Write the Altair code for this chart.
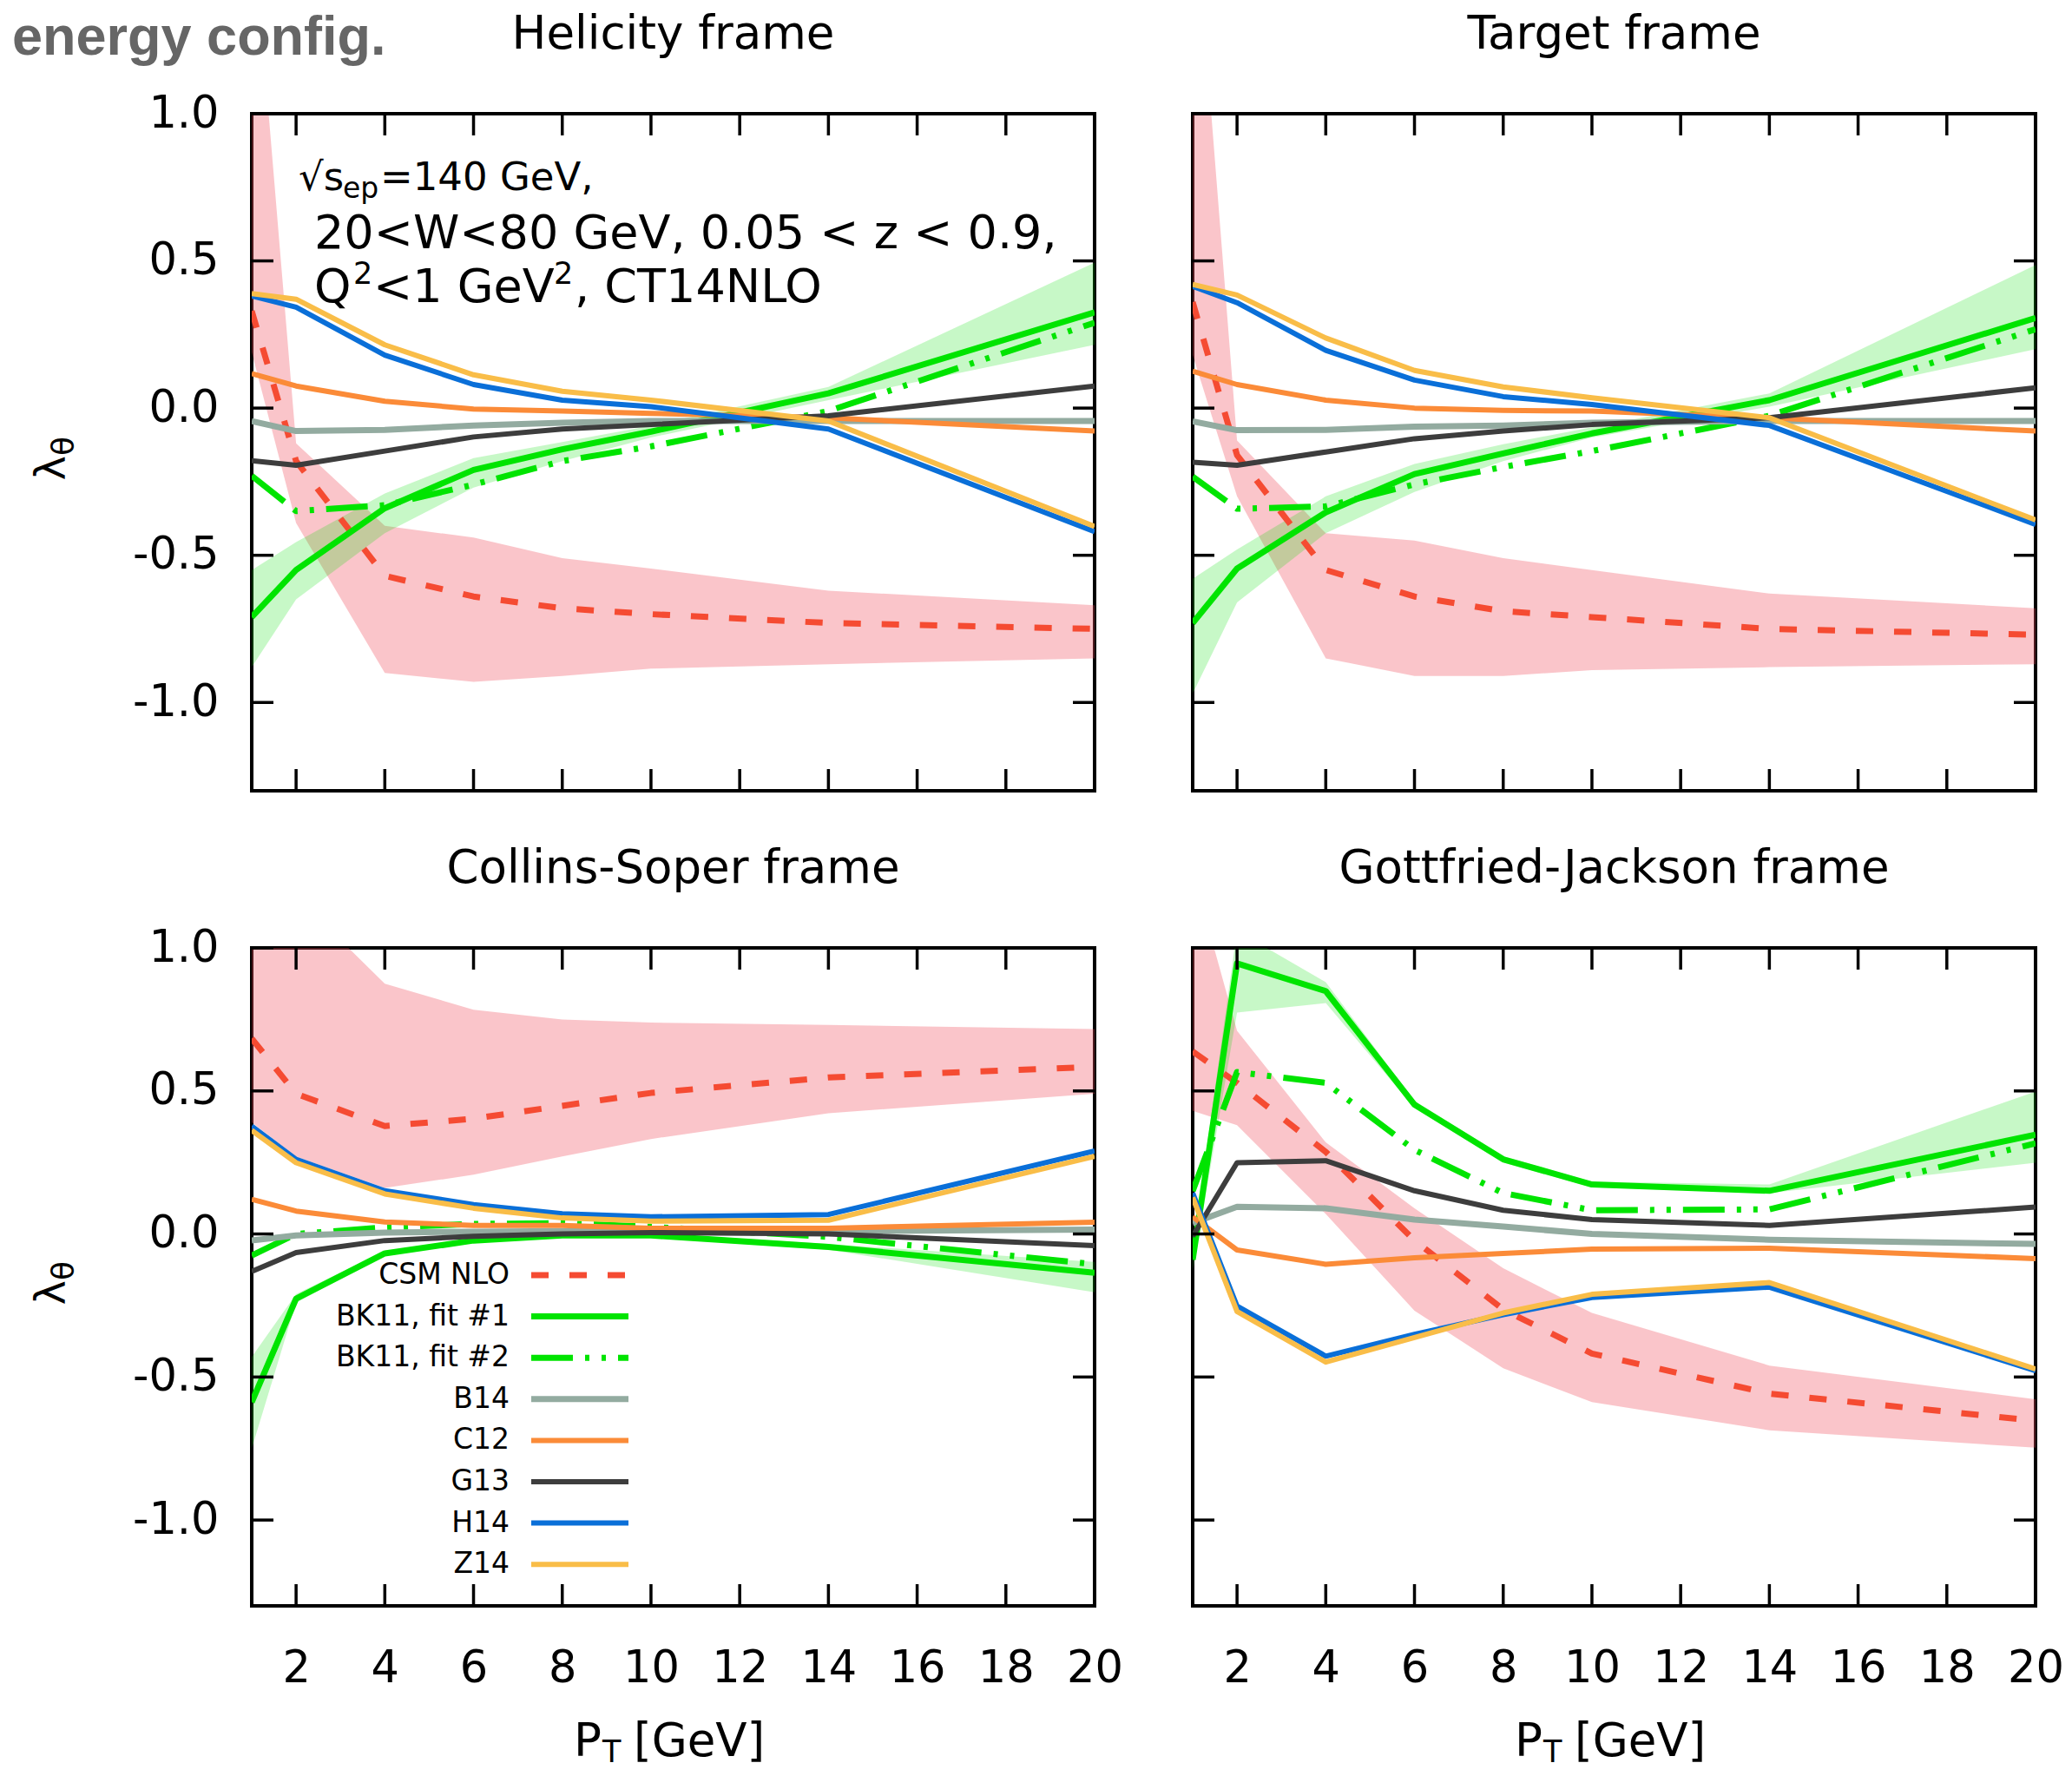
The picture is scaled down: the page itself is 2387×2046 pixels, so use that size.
import altair as alt
import pandas as pd

FONT = "DejaVu Sans"

# ---------------- data ----------------
PT = [1, 2, 4, 6, 8, 10, 14, 20]
X_TICKS = [2, 4, 6, 8, 10, 12, 14, 16, 18, 20]
Y_TICKS = [-1.0, -0.5, 0.0, 0.5, 1.0]
SERIES = ["CSM NLO", "BK11, fit #1", "BK11, fit #2", "B14", "C12", "G13", "H14", "Z14"]
FRAME_TITLES = ["Helicity frame", "Target frame", "Collins-Soper frame", "Gottfried-Jackson frame"]

# Helicity frame
HEL_CSM = [0.33, -0.18, -0.57, -0.64, -0.68, -0.70, -0.73, -0.75]
HEL_CSM_LO = [0.19, -0.39, -0.90, -0.93, -0.91, -0.885, -0.87, -0.85]
HEL_CSM_HI = [1.69, -0.12, -0.40, -0.44, -0.51, -0.545, -0.62, -0.67]
HEL_FIT1 = [-0.71, -0.55, -0.34, -0.21, -0.14, -0.08, 0.05, 0.325]
HEL_FIT1_LO = [-0.88, -0.65, -0.425, -0.27, -0.18, -0.10, 0.027, 0.215]
HEL_FIT1_HI = [-0.55, -0.455, -0.29, -0.17, -0.115, -0.06, 0.072, 0.494]
HEL_FIT2 = [-0.23, -0.35, -0.33, -0.26, -0.18, -0.13, -0.01, 0.29]
HEL_B14 = [-0.044, -0.078, -0.074, -0.059, -0.05, -0.044, -0.044, -0.044]
HEL_C12 = [0.117, 0.075, 0.023, -0.003, -0.01, -0.018, -0.033, -0.078]
HEL_G13 = [-0.179, -0.194, -0.146, -0.098, -0.071, -0.056, -0.026, 0.075]
HEL_H14 = [0.381, 0.343, 0.18, 0.08, 0.027, 0.005, -0.071, -0.42]
HEL_Z14 = [0.389, 0.37, 0.215, 0.113, 0.057, 0.027, -0.044, -0.402]

# Target frame
TGT_CSM = [0.36, -0.16, -0.55, -0.64, -0.69, -0.71, -0.75, -0.77]
TGT_CSM_LO = [0.18, -0.30, -0.85, -0.91, -0.91, -0.89, -0.88, -0.87]
TGT_CSM_HI = [1.80, -0.11, -0.425, -0.45, -0.51, -0.55, -0.63, -0.68]
TGT_FIT1 = [-0.73, -0.545, -0.354, -0.224, -0.154, -0.086, 0.027, 0.306]
TGT_FIT1_LO = [-0.97, -0.66, -0.425, -0.285, -0.18, -0.10, 0.005, 0.20]
TGT_FIT1_HI = [-0.58, -0.48, -0.30, -0.19, -0.123, -0.065, 0.05, 0.486]
TGT_FIT2 = [-0.233, -0.342, -0.334, -0.259, -0.20, -0.146, -0.026, 0.268]
TGT_B14 = [-0.045, -0.075, -0.074, -0.063, -0.059, -0.05, -0.044, -0.044]
TGT_C12 = [0.125, 0.08, 0.027, 0.0, -0.008, -0.01, -0.033, -0.078]
TGT_G13 = [-0.184, -0.194, -0.149, -0.104, -0.078, -0.056, -0.033, 0.069]
TGT_H14 = [0.414, 0.358, 0.196, 0.095, 0.039, 0.012, -0.059, -0.395]
TGT_Z14 = [0.42, 0.384, 0.238, 0.128, 0.072, 0.035, -0.033, -0.38]

# Collins-Soper frame
CS_CSM = [0.683, 0.49, 0.377, 0.403, 0.448, 0.493, 0.547, 0.584]
CS_CSM_LO = [0.39, 0.27, 0.161, 0.207, 0.271, 0.332, 0.422, 0.49]
CS_CSM_HI = [1.40, 1.18, 0.875, 0.784, 0.75, 0.739, 0.731, 0.716]
CS_FIT1 = [-0.588, -0.226, -0.068, -0.023, -0.005, -0.005, -0.045, -0.136]
CS_FIT1_LO = [-0.75, -0.24, -0.076, -0.03, -0.012, -0.012, -0.055, -0.204]
CS_FIT1_HI = [-0.43, -0.21, -0.06, -0.016, 0.002, 0.002, -0.035, -0.098]
CS_FIT2 = [-0.075, 0.0, 0.023, 0.035, 0.038, 0.025, -0.01, -0.106]
CS_B14 = [-0.023, -0.005, 0.005, 0.008, 0.01, 0.01, 0.01, 0.015]
CS_C12 = [0.121, 0.08, 0.042, 0.03, 0.03, 0.02, 0.02, 0.041]
CS_G13 = [-0.131, -0.065, -0.023, -0.008, 0.0, 0.005, 0.0, -0.041]
CS_H14 = [0.377, 0.261, 0.151, 0.103, 0.071, 0.06, 0.068, 0.29]
CS_Z14 = [0.362, 0.249, 0.14, 0.09, 0.056, 0.045, 0.048, 0.271]

# Gottfried-Jackson frame
GJ_CSM = [0.638, 0.528, 0.287, -0.023, -0.264, -0.418, -0.558, -0.653]
GJ_CSM_LO = [0.43, 0.38, 0.07, -0.268, -0.469, -0.588, -0.686, -0.747]
GJ_CSM_HI = [1.27, 0.71, 0.32, 0.09, -0.12, -0.276, -0.46, -0.578]
GJ_FIT1 = [-0.09, 0.946, 0.849, 0.452, 0.261, 0.173, 0.151, 0.347]
GJ_FIT1_LO = [-0.13, 0.774, 0.807, 0.44, 0.25, 0.163, 0.143, 0.249]
GJ_FIT1_HI = [-0.05, 1.06, 0.88, 0.465, 0.272, 0.183, 0.173, 0.498]
GJ_FIT2 = [0.15, 0.566, 0.528, 0.294, 0.143, 0.083, 0.086, 0.317]
GJ_B14 = [0.038, 0.095, 0.09, 0.05, 0.026, 0.0, -0.02, -0.035]
GJ_C12 = [0.06, -0.056, -0.106, -0.083, -0.068, -0.053, -0.05, -0.086]
GJ_G13 = [-0.008, 0.249, 0.256, 0.151, 0.083, 0.05, 0.03, 0.094]
GJ_H14 = [0.143, -0.252, -0.427, -0.351, -0.282, -0.222, -0.186, -0.478]
GJ_Z14 = [0.128, -0.271, -0.448, -0.362, -0.276, -0.211, -0.17, -0.472]

# ---------------- styles ----------------
STYLE = {
    "CSM NLO": {"color": "#f54b32", "width": 7, "dash": [20, 24]},
    "BK11, fit #1": {"color": "#00e400", "width": 7, "dash": None},
    "BK11, fit #2": {"color": "#00e400", "width": 7, "dash": [48, 14, 5, 14, 5, 14]},
    "B14": {"color": "#93aba0", "width": 7, "dash": None},
    "C12": {"color": "#fb8b38", "width": 6, "dash": None},
    "G13": {"color": "#3d3d3d", "width": 6, "dash": None},
    "H14": {"color": "#0a6fd8", "width": 6, "dash": None},
    "Z14": {"color": "#f9bd48", "width": 6, "dash": None},
}
PINK = "#f0505f"
GREEN_BAND = "#00e000"

W = 971
H_TOP = 780
H_BOT = 758
TICK_LEN = 25

X_SCALE = alt.Scale(domain=[1, 20], nice=False, zero=False)
Y_SCALE = alt.Scale(domain=[-1.3, 1.0], nice=False, zero=False)
DUMMY = pd.DataFrame({"label": [""]})


def xe(field, show):
    if show:
        ax = alt.Axis(values=X_TICKS, ticks=False, tickSize=0, domain=False, grid=False,
                      labelFont=FONT, labelFontSize=51, labelColor="black", labelPadding=47,
                      labelFlush=False, labelOverlap=False, format="d", title=None)
        return alt.X(f"{field}:Q", scale=X_SCALE, axis=ax)
    return alt.X(f"{field}:Q", scale=X_SCALE, axis=None)


def ye(field, show):
    if show:
        ax = alt.Axis(values=Y_TICKS, ticks=False, tickSize=0, domain=False, grid=False,
                      labelFont=FONT, labelFontSize=51, labelColor="black", labelPadding=38,
                      labelOverlap=False,
                      labelExpr="(datum.value < 0 ? '-' : '') + format(abs(datum.value), '.1f')",
                      title=None)
        return alt.Y(f"{field}:Q", scale=Y_SCALE, axis=ax)
    return alt.Y(f"{field}:Q", scale=Y_SCALE, axis=None)


def text_layer(txt, x, y, size, align="left", baseline="alphabetic", angle=0,
               color="black", font=FONT, weight="normal"):
    return alt.Chart(pd.DataFrame({"label": [txt]})).mark_text(
        align=align, baseline=baseline, fontSize=size, font=font,
        fontWeight=weight, color=color, angle=angle
    ).encode(text="label:N", x=alt.value(x), y=alt.value(y))


def y_title(junction):
    return [
        text_layer("λ", -215, junction, 48, align="right", angle=270),
        text_layer("θ", -205, junction, 36, align="left", angle=270),
    ]


def x_title(height):
    base = height + 173
    return [
        text_layer("P", 371, base, 53),
        text_layer("T", 404, base + 7, 35),
        text_layer("[GeV]", 440, base, 53),
    ]


def panel(title, lines, csm_band, fit_band, height, show_x, show_y, extra):
    layers = []
    pk = pd.DataFrame({"pt": PT, "lo": csm_band[0], "hi": csm_band[1]})
    layers.append(alt.Chart(pk).mark_area(color=PINK, opacity=0.33, clip=True).encode(
        x=xe("pt", show_x), y=ye("lo", show_y), y2=alt.Y2("hi:Q")))
    gb = pd.DataFrame({"pt": PT, "lo": fit_band[0], "hi": fit_band[1]})
    layers.append(alt.Chart(gb).mark_area(color=GREEN_BAND, opacity=0.22, clip=True).encode(
        x=xe("pt", show_x), y=ye("lo", show_y), y2=alt.Y2("hi:Q")))
    for name in SERIES:
        df = pd.DataFrame({"pt": PT, "v": lines[name]})
        st = STYLE[name]
        kw = dict(color=st["color"], strokeWidth=st["width"], clip=True,
                  strokeJoin="round", strokeCap="butt")
        if st["dash"]:
            kw["strokeDash"] = st["dash"]
        layers.append(alt.Chart(df).mark_line(**kw).encode(
            x=xe("pt", show_x), y=ye("v", show_y)))
    tx = pd.DataFrame({"t": X_TICKS})
    ty = pd.DataFrame({"t": Y_TICKS})
    rk = dict(color="black", strokeWidth=3.5)
    layers.append(alt.Chart(tx).mark_rule(**rk).encode(
        x=xe("t", show_x), y=alt.value(0), y2=alt.value(TICK_LEN)))
    layers.append(alt.Chart(tx).mark_rule(**rk).encode(
        x=xe("t", show_x), y=alt.value(height - TICK_LEN), y2=alt.value(height)))
    layers.append(alt.Chart(ty).mark_rule(**rk).encode(
        y=ye("t", show_y), x=alt.value(0), x2=alt.value(TICK_LEN)))
    layers.append(alt.Chart(ty).mark_rule(**rk).encode(
        y=ye("t", show_y), x=alt.value(W - TICK_LEN), x2=alt.value(W)))
    layers.append(text_layer(title, W / 2, -75, 53, align="center"))
    layers += extra
    return alt.layer(*layers).properties(width=W, height=height)


def series_map(csm, f1, f2, b14, c12, g13, h14, z14):
    return dict(zip(SERIES, [csm, f1, f2, b14, c12, g13, h14, z14]))


# ---- extras ----
anchor = alt.Chart(DUMMY).mark_rule(opacity=0, strokeOpacity=0).encode(
    x=alt.value(-288), x2=alt.value(-287), y=alt.value(-129), y2=alt.value(-128))

hel_extra = [
    anchor,
    text_layer("energy config.", -276, -68, 63, font="Liberation Sans", weight="bold", color="#666666"),
    text_layer("√s", 54, 88, 45),
    text_layer("ep", 105, 97, 33),
    text_layer("=140 GeV,", 148, 88, 45),
    text_layer("20<W<80 GeV, 0.05 < z < 0.9,", 72, 155, 54),
    text_layer("Q", 72, 217, 54),
    text_layer("2", 117, 196, 35),
    text_layer("<1 GeV", 140, 217, 54),
    text_layer("2", 348, 196, 35),
    text_layer(", CT14NLO", 372, 217, 54),
] + y_title(394)

legend_layers = []
for i, name in enumerate(SERIES):
    yy = 377 + i * 47.6
    st = STYLE[name]
    legend_layers.append(text_layer(name, 297, yy, 33, align="right", baseline="middle"))
    kw = dict(color=st["color"], strokeWidth=st["width"])
    if st["dash"]:
        kw["strokeDash"] = st["dash"]
    legend_layers.append(alt.Chart(DUMMY).mark_rule(**kw).encode(
        x=alt.value(322), x2=alt.value(434), y=alt.value(yy)))

cs_extra = legend_layers + y_title(383) + x_title(H_BOT)
gj_extra = x_title(H_BOT)

p_hel = panel(FRAME_TITLES[0],
              series_map(HEL_CSM, HEL_FIT1, HEL_FIT2, HEL_B14, HEL_C12, HEL_G13, HEL_H14, HEL_Z14),
              (HEL_CSM_LO, HEL_CSM_HI), (HEL_FIT1_LO, HEL_FIT1_HI), H_TOP, False, True, hel_extra)
p_tgt = panel(FRAME_TITLES[1],
              series_map(TGT_CSM, TGT_FIT1, TGT_FIT2, TGT_B14, TGT_C12, TGT_G13, TGT_H14, TGT_Z14),
              (TGT_CSM_LO, TGT_CSM_HI), (TGT_FIT1_LO, TGT_FIT1_HI), H_TOP, False, False, [])
p_cs = panel(FRAME_TITLES[2],
             series_map(CS_CSM, CS_FIT1, CS_FIT2, CS_B14, CS_C12, CS_G13, CS_H14, CS_Z14),
             (CS_CSM_LO, CS_CSM_HI), (CS_FIT1_LO, CS_FIT1_HI), H_BOT, True, True, cs_extra)
p_gj = panel(FRAME_TITLES[3],
             series_map(GJ_CSM, GJ_FIT1, GJ_FIT2, GJ_B14, GJ_C12, GJ_G13, GJ_H14, GJ_Z14),
             (GJ_CSM_LO, GJ_CSM_HI), (GJ_FIT1_LO, GJ_FIT1_HI), H_BOT, True, False, gj_extra)

chart = alt.concat(p_hel, p_tgt, p_cs, p_gj, columns=2,
                   spacing={"row": 181, "column": 113}, bounds="flush").properties(
    padding={"left": 0, "top": 0, "right": 0, "bottom": 0}, background="white"
).configure_view(stroke="black", strokeWidth=4)

chart.save("out.html", embed_options={"renderer": "svg", "actions": False})
